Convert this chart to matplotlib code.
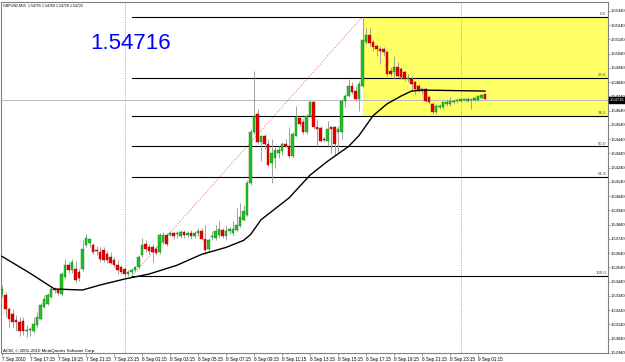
import numpy as np
import matplotlib
matplotlib.use("Agg")
import matplotlib.pyplot as plt
from matplotlib.patches import Rectangle
from matplotlib.transforms import blended_transform_factory

plt.rcParams['font.family'] = ['Liberation Sans', 'DejaVu Sans']

# GBPUSD M15, bars from 7 Sep 15:15
opens = [1.53355, 1.53348, 1.53250, 1.53216, 1.53174, 1.53160, 1.53167, 1.53091, 1.53098, 1.53091,
         1.53139, 1.53181, 1.53264, 1.53285, 1.53334, 1.53389, 1.53382, 1.53355, 1.53473, 1.53556,
         1.53521, 1.53528, 1.53507, 1.53528, 1.53695, 1.53709, 1.53695, 1.53660, 1.53646, 1.53660,
         1.53632, 1.53612, 1.53591, 1.53556, 1.53542, 1.53528, 1.53494, 1.53507, 1.53521, 1.53542,
         1.53625, 1.53702, 1.53681, 1.53681, 1.53667, 1.53646, 1.53716, 1.53771, 1.53771, 1.53785,
         1.53778, 1.53764, 1.53792, 1.53771, 1.53785, 1.53764, 1.53785, 1.53799, 1.53737, 1.53667,
         1.53757, 1.53750, 1.53771, 1.53806, 1.53764, 1.53799, 1.53785, 1.53806, 1.53834, 1.53875,
         1.53910, 1.54132, 1.54493, 1.54618, 1.54424, 1.54466, 1.54410, 1.54271, 1.54306, 1.54341,
         1.54355, 1.54410, 1.54396, 1.54320, 1.54466, 1.54591, 1.54563, 1.54493, 1.54605, 1.54702,
         1.54528, 1.54521, 1.54445, 1.54431, 1.54528, 1.54528, 1.54493, 1.54493, 1.54709, 1.54743,
         1.54813, 1.54778, 1.54723, 1.54813, 1.55125, 1.55174, 1.55125, 1.55091, 1.55070, 1.55070,
         1.55049, 1.54917, 1.54910, 1.54945, 1.54931, 1.54910, 1.54861, 1.54861, 1.54841, 1.54813,
         1.54778, 1.54792, 1.54736, 1.54688, 1.54632, 1.54667, 1.54667, 1.54688, 1.54688, 1.54702,
         1.54709, 1.54709, 1.54716, 1.54709, 1.54716, 1.54716, 1.54716, 1.54730, 1.54755]
highs = [1.53417, 1.53368, 1.53264, 1.53250, 1.53209, 1.53195, 1.53195, 1.53139, 1.53125, 1.53195,
         1.53230, 1.53292, 1.53348, 1.53362, 1.53403, 1.53403, 1.53396, 1.53507, 1.53598, 1.53577,
         1.53598, 1.53584, 1.53528, 1.53730, 1.53778, 1.53750, 1.53709, 1.53688, 1.53681, 1.53681,
         1.53653, 1.53646, 1.53612, 1.53591, 1.53556, 1.53542, 1.53521, 1.53535, 1.53549, 1.53625,
         1.53750, 1.53730, 1.53702, 1.53702, 1.53688, 1.53785, 1.53792, 1.53785, 1.53799, 1.53792,
         1.53799, 1.53806, 1.53806, 1.53799, 1.53806, 1.53799, 1.53820, 1.53820, 1.53841, 1.53750,
         1.53799, 1.53841, 1.53868, 1.53820, 1.53841, 1.53827, 1.53868, 1.53959, 1.53993, 1.53980,
         1.54153, 1.54514, 1.54917, 1.54653, 1.54466, 1.54480, 1.54445, 1.54445, 1.54389, 1.54396,
         1.54424, 1.54445, 1.54528, 1.54493, 1.54674, 1.54598, 1.54584, 1.54618, 1.54709, 1.54709,
         1.54584, 1.54535, 1.54459, 1.54570, 1.54535, 1.54535, 1.54535, 1.54723, 1.54757, 1.54861,
         1.54841, 1.54813, 1.54848, 1.55299, 1.55223, 1.55223, 1.55139, 1.55105, 1.55091, 1.55084,
         1.55056, 1.54945, 1.55021, 1.54979, 1.54945, 1.54917, 1.54896, 1.54882, 1.54848, 1.54827,
         1.54806, 1.54806, 1.54743, 1.54702, 1.54688, 1.54688, 1.54709, 1.54723, 1.54736, 1.54723,
         1.54723, 1.54730, 1.54730, 1.54736, 1.54723, 1.54736, 1.54743, 1.54757, 1.54760]
lows = [1.53334, 1.53195, 1.53125, 1.53112, 1.53091, 1.53056, 1.53063, 1.53049, 1.53056, 1.53077,
        1.53125, 1.53174, 1.53257, 1.53278, 1.53327, 1.53362, 1.53348, 1.53348, 1.53466, 1.53500,
        1.53500, 1.53438, 1.53445, 1.53514, 1.53681, 1.53681, 1.53632, 1.53625, 1.53577, 1.53577,
        1.53570, 1.53563, 1.53542, 1.53494, 1.53494, 1.53473, 1.53480, 1.53494, 1.53507, 1.53528,
        1.53612, 1.53646, 1.53632, 1.53577, 1.53625, 1.53632, 1.53702, 1.53688, 1.53764, 1.53737,
        1.53750, 1.53750, 1.53750, 1.53757, 1.53737, 1.53750, 1.53764, 1.53730, 1.53632, 1.53646,
        1.53730, 1.53730, 1.53750, 1.53750, 1.53730, 1.53778, 1.53764, 1.53799, 1.53827, 1.53868,
        1.53903, 1.54118, 1.54480, 1.54410, 1.54285, 1.54375, 1.54250, 1.54132, 1.54237, 1.54306,
        1.54327, 1.54389, 1.54306, 1.54306, 1.54466, 1.54535, 1.54480, 1.54480, 1.54598, 1.54514,
        1.54396, 1.54424, 1.54424, 1.54396, 1.54341, 1.54327, 1.54341, 1.54445, 1.54667, 1.54736,
        1.54757, 1.54709, 1.54639, 1.54806, 1.55105, 1.55091, 1.55056, 1.55021, 1.54966, 1.55021,
        1.54882, 1.54882, 1.54861, 1.54875, 1.54861, 1.54848, 1.54841, 1.54778, 1.54757, 1.54771,
        1.54757, 1.54702, 1.54688, 1.54618, 1.54618, 1.54653, 1.54653, 1.54674, 1.54674, 1.54688,
        1.54695, 1.54702, 1.54709, 1.54702, 1.54653, 1.54709, 1.54709, 1.54723, 1.54720]
closes = [1.53389, 1.53250, 1.53181, 1.53160, 1.53160, 1.53091, 1.53091, 1.53098, 1.53105, 1.53146,
          1.53195, 1.53278, 1.53320, 1.53348, 1.53389, 1.53382, 1.53362, 1.53494, 1.53556, 1.53521,
          1.53577, 1.53452, 1.53466, 1.53667, 1.53750, 1.53737, 1.53646, 1.53653, 1.53598, 1.53591,
          1.53591, 1.53570, 1.53556, 1.53521, 1.53507, 1.53494, 1.53507, 1.53521, 1.53542, 1.53612,
          1.53695, 1.53667, 1.53653, 1.53646, 1.53639, 1.53771, 1.53771, 1.53702, 1.53785, 1.53764,
          1.53785, 1.53792, 1.53771, 1.53785, 1.53764, 1.53785, 1.53799, 1.53737, 1.53660, 1.53730,
          1.53764, 1.53799, 1.53813, 1.53764, 1.53799, 1.53813, 1.53813, 1.53841, 1.53896, 1.53938,
          1.54132, 1.54493, 1.54605, 1.54424, 1.54466, 1.54410, 1.54257, 1.54341, 1.54362, 1.54362,
          1.54410, 1.54396, 1.54320, 1.54480, 1.54598, 1.54549, 1.54493, 1.54605, 1.54702, 1.54528,
          1.54514, 1.54431, 1.54438, 1.54514, 1.54514, 1.54410, 1.54514, 1.54709, 1.54743, 1.54813,
          1.54771, 1.54723, 1.54827, 1.55139, 1.55174, 1.55118, 1.55084, 1.55070, 1.55056, 1.55049,
          1.54896, 1.54896, 1.54945, 1.54882, 1.54875, 1.54861, 1.54868, 1.54827, 1.54792, 1.54778,
          1.54792, 1.54709, 1.54702, 1.54632, 1.54674, 1.54674, 1.54702, 1.54702, 1.54709, 1.54709,
          1.54716, 1.54723, 1.54723, 1.54723, 1.54723, 1.54730, 1.54743, 1.54750, 1.54722]

# moving average at some bars
ma_bars = [0, 8, 15, 23, 28, 35, 42, 50, 57, 64, 69, 71, 74, 82, 88, 93, 99, 102, 106, 110, 114, 117, 120, 138]
ma_vals = [1.53618, 1.53500, 1.53389, 1.53382, 1.53417, 1.53459, 1.53494, 1.53556, 1.53632, 1.53681,
           1.53730, 1.53771, 1.53875, 1.54028, 1.54188, 1.54285, 1.54389, 1.54466, 1.54605, 1.54688,
           1.54743, 1.54778, 1.54785, 1.54778]

time_ticks = [0, 8, 16, 24, 32, 40, 48, 56, 64, 72, 80, 88, 96, 104, 112, 120, 128, 136]
time_labels = ["7 Sep 2010", "7 Sep 17:15", "7 Sep 19:15", "7 Sep 21:15", "7 Sep 23:15",
               "8 Sep 01:15", "8 Sep 03:15", "8 Sep 05:15", "8 Sep 07:15", "8 Sep 09:15",
               "8 Sep 11:15", "8 Sep 13:15", "8 Sep 15:15", "8 Sep 17:15", "8 Sep 19:15",
               "8 Sep 21:15", "8 Sep 23:15", "9 Sep 01:15"]
day_separators = [35, 131]

price_ticks = [1.55340 - 0.001 * k for k in range(25)]
bid = 1.54716

fib_low_bar, fib_low = 37, 1.5348
fib_high_bar, fib_high = 103, 1.5530
fib_levels = [0.0, 23.6, 38.2, 50.0, 61.8, 100.0]
rect_bar, rect_top, rect_bottom = 103, 1.5530, 1.5460

fig = plt.figure(figsize=(6.25, 3.62), dpi=100)
ax = fig.add_axes([1 / 625, 9 / 362, 607 / 625, 351 / 362])
ax.set_xlim(-0.29, 173.14)
ax.set_ylim(1.529656, 1.554031)

# background objects
ax.add_patch(Rectangle((rect_bar, rect_bottom), 200, rect_top - rect_bottom,
                       facecolor='#FFFF66', edgecolor='none', zorder=0))
for d in day_separators:
    ax.axvline(d, color='#A0A0A0', lw=0.7, ls=(0, (1, 1.5)), zorder=1)
ax.axhline(bid, color='#B8B8B8', lw=0.7, zorder=1)

# fibo
ax.plot([fib_low_bar, fib_high_bar], [fib_low, fib_high], color='#F08080', lw=0.8, ls=(0, (1, 1.5)), zorder=2)
for lv in fib_levels:
    p = fib_high - (fib_high - fib_low) * lv / 100.0
    ax.plot([fib_low_bar, 175], [p, p], color='black', lw=0.8, zorder=2)
    ax.text(172.6, p + 0.00004, f"{lv:.1f}", ha='right', va='bottom', fontsize=3.2, color='#3A4A70', zorder=6)

# candles
o = np.array(opens); h = np.array(highs); l = np.array(lows); c = np.array(closes)
x = np.arange(len(o))
ax.vlines(x, l, h, color='#A0A0A0', lw=0.7, zorder=3)
up = c >= o
body = np.where(np.abs(c - o) < 0.00003, 0.00003, c - o)
ax.bar(x[up], body[up], bottom=o[up], width=0.7, color='#22C022', edgecolor='#108010', lw=0.3, zorder=4)
ax.bar(x[~up], body[~up], bottom=o[~up], width=0.7, color='#E00000', edgecolor='#B00000', lw=0.3, zorder=4)

ax.plot(ma_bars, ma_vals, color='black', lw=1.0, zorder=5)

# axes styling
for s in ax.spines.values():
    s.set_color('#808080')
    s.set_linewidth(0.8)
ax.yaxis.tick_right()
ax.set_yticks(price_ticks)
ax.set_yticklabels([f"{p:.5f}" for p in price_ticks])
ax.set_xticks(time_ticks)
ax.set_xticklabels(time_labels, ha='left')
ax.tick_params(axis='x', labelsize=3.3, length=2, width=0.5, color='#808080', pad=1)
ax.tick_params(axis='y', labelsize=3.0, length=1.5, width=0.5, color='#808080', pad=0.5)

tr = blended_transform_factory(ax.transAxes, ax.transData)
ax.text(1.003, bid, f"{bid:.5f}", transform=tr, ha='left', va='center', fontsize=3.0, color='white',
        bbox=dict(boxstyle='square,pad=0.15', fc='black', ec='black'), zorder=7, clip_on=False)

fig.text(3 / 625, 1 - 7 / 362, "GBPUSD,M15  1.54755 1.54760 1.54720 1.54722", fontsize=2.6, va='baseline')
fig.text(3 / 625, 1 - 352 / 362, "ACM, \u00a9 2001-2010 MetaQuotes Software Corp.", fontsize=3.2, va='baseline')
fig.text(90 / 625, 1 - 49 / 362, "1.54716", fontsize=16, color='#0000FF', va='baseline')

fig.savefig("out.png", dpi=100)
